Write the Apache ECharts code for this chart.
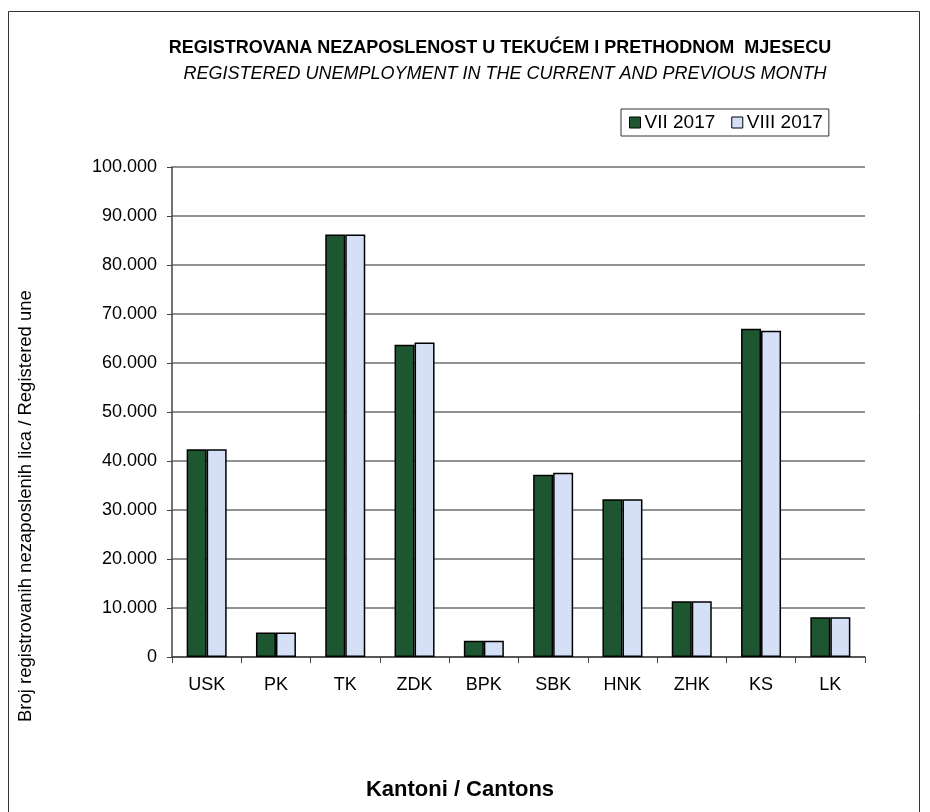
<!DOCTYPE html>
<html>
<head>
<meta charset="utf-8">
<script src="https://cdn.jsdelivr.net/npm/echarts@6/dist/echarts.min.js"></script>
<style>
  html, body { margin: 0; padding: 0; background: #fff; }
  #chart { width: 930px; height: 812px; }
</style>
</head>
<body>
<div id="chart"></div>
<script>
// kantoni
var cantons = ['USK', 'PK', 'TK', 'ZDK', 'BPK', 'SBK', 'HNK', 'ZHK', 'KS', 'LK'];
// broj registrovanih nezaposlenih
var jul2017 = [42400, 5000, 86200, 63700, 3300, 37200, 32200, 11400, 67000, 8100];
var aug2017 = [42400, 5000, 86200, 64200, 3300, 37600, 32200, 11400, 66600, 8100];
var seriesNames = ['VII 2017', 'VIII 2017'];
var yTicks = [0, 10000, 20000, 30000, 40000, 50000, 60000, 70000, 80000, 90000, 100000];

var font = '"Liberation Sans", Arial, sans-serif';

function fmt(v) {
  // 10000 -> 10.000
  return String(v).replace(/\B(?=(\d{3})+(?!\d))/g, '.');
}

var myChart = echarts.init(document.getElementById('chart'));
var option = {
  backgroundColor: '#fff',
  animation: false,
  textStyle: { fontFamily: font },
  title: [
    {
      text: 'REGISTROVANA NEZAPOSLENOST U TEKUĆEM I PRETHODNOM  MJESECU',
      left: 500, top: 39, textAlign: 'center', padding: 0,
      textStyle: { fontSize: 18, fontWeight: 'bold', color: '#000', fontFamily: font }
    },
    {
      text: 'REGISTERED UNEMPLOYMENT IN THE CURRENT AND PREVIOUS MONTH',
      left: 505, top: 65, textAlign: 'center', padding: 0,
      textStyle: { fontSize: 18, fontWeight: 'normal', fontStyle: 'italic', color: '#000', fontFamily: font }
    }
  ],
  legend: {
    data: seriesNames,
    left: 621, top: 109,
    padding: [4, 6, 4, 8],
    itemGap: 16,
    itemWidth: 11, itemHeight: 11,
    icon: 'rect',
    borderColor: '#333', borderWidth: 1,
    itemStyle: { borderColor: '#000', borderWidth: 1 },
    textStyle: { fontSize: 19, color: '#000', padding: [0, 0, 0, -1] }
  },
  grid: { left: 172, right: 65, top: 167, bottom: 155, containLabel: false },
  xAxis: {
    type: 'category',
    data: cantons,
    axisLine: { lineStyle: { color: '#444', width: 1.5 } },
    axisTick: { show: true, length: 6, lineStyle: { color: '#444' } },
    axisLabel: { fontSize: 18, color: '#000', margin: 19 }
  },
  yAxis: {
    type: 'value',
    min: 0, max: 100000, interval: 10000,
    axisLine: { show: true, lineStyle: { color: '#444', width: 1.5 } },
    axisTick: { show: true, length: 5, lineStyle: { color: '#444' } },
    axisLabel: {
      fontSize: 18, color: '#000', margin: 15,
      formatter: function (v) { return yTicks.indexOf(v) >= 0 ? fmt(v) : ''; }
    },
    splitLine: { lineStyle: { color: '#6e6e6e', width: 1.5 } }
  },
  graphic: [
    {
      type: 'rect',
      shape: { x: 8.5, y: 11.5, width: 911, height: 830 },
      style: { fill: 'none', stroke: '#333', lineWidth: 1 },
      silent: true
    },
    {
      type: 'text',
      x: 26, y: 722, rotation: Math.PI / 2,
      style: {
        text: 'Broj registrovanih nezaposlenih lica / Registered une',
        fill: '#000', font: '18.5px ' + font,
        textAlign: 'left', textVerticalAlign: 'middle'
      }
    },
    {
      type: 'text',
      x: 460, y: 790,
      style: {
        text: 'Kantoni / Cantons',
        fill: '#000', font: 'bold 22px ' + font,
        textAlign: 'center', textVerticalAlign: 'middle'
      }
    }
  ],
  series: [
    {
      name: seriesNames[0],
      type: 'bar',
      data: jul2017,
      barWidth: 20,
      barGap: '0%',
      itemStyle: { color: '#1f5632', borderColor: '#000', borderWidth: 1.5 }
    },
    {
      name: seriesNames[1],
      type: 'bar',
      data: aug2017,
      barWidth: 20,
      itemStyle: { color: '#d5e0f7', borderColor: '#000', borderWidth: 1.5 }
    }
  ]
};
myChart.setOption(option);
</script>
</body>
</html>
